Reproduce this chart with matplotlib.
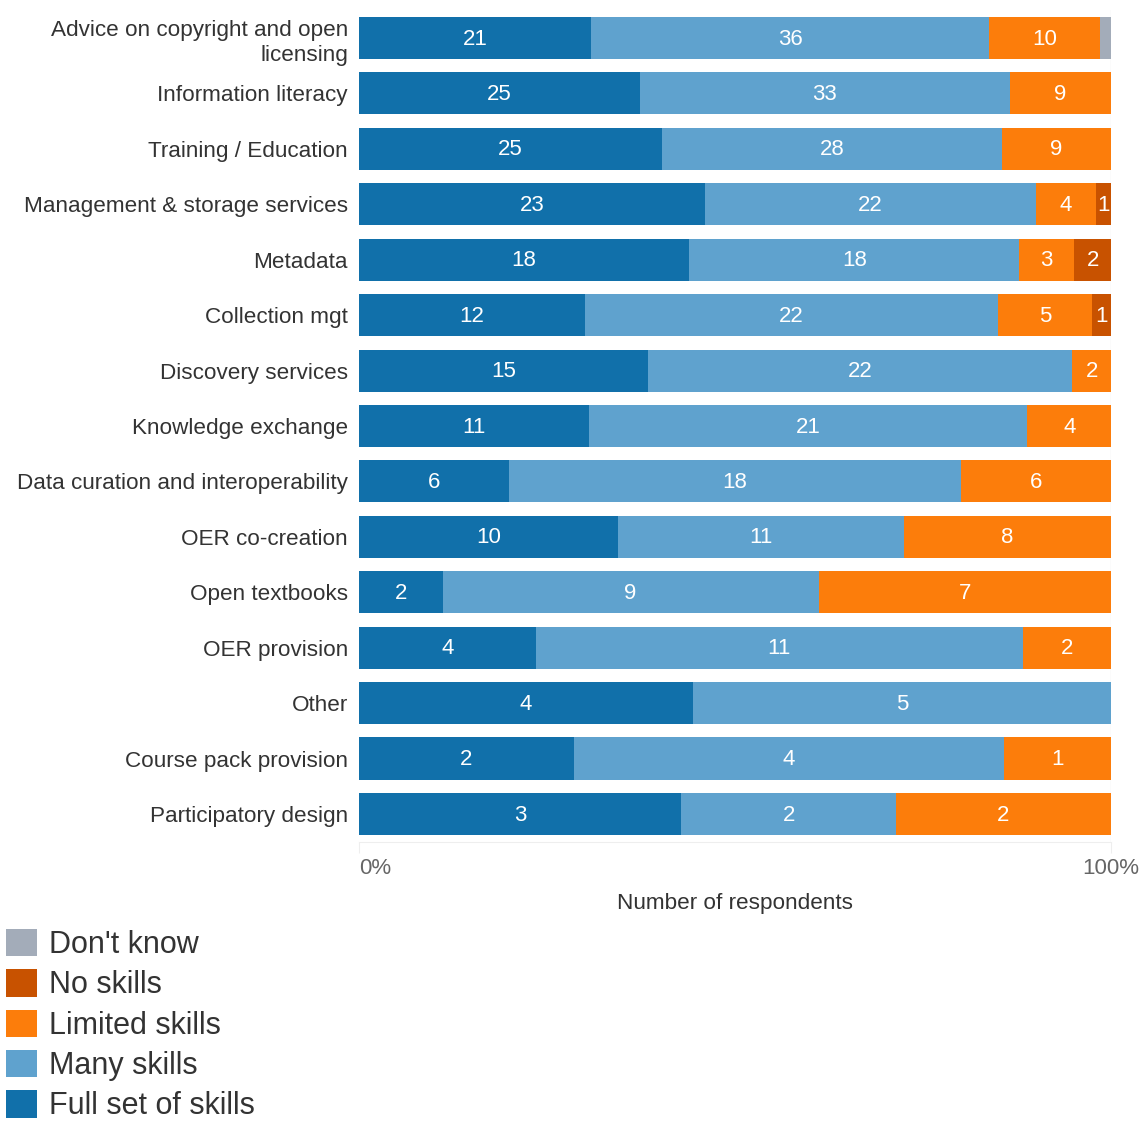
import numpy as np
import matplotlib.pyplot as plt
from matplotlib.patches import Patch

plt.rcParams['font.family'] = ['Liberation Sans', 'DejaVu Sans']

# Skills survey: counts per area, stacked as share of respondents
areas = ["Advice on copyright and open\nlicensing", "Information literacy",
         "Training / Education", "Management & storage services", "Metadata",
         "Collection mgt", "Discovery services", "Knowledge exchange",
         "Data curation and interoperability", "OER co-creation",
         "Open textbooks", "OER provision", "Other", "Course pack provision",
         "Participatory design"]
full_set = [21, 25, 25, 23, 18, 12, 15, 11, 6, 10, 2, 4, 4, 2, 3]
many = [36, 33, 28, 22, 18, 22, 22, 21, 18, 11, 9, 11, 5, 4, 2]
limited = [10, 9, 9, 4, 3, 5, 2, 4, 6, 8, 7, 2, 0, 1, 2]
no_skills = [0, 0, 0, 1, 2, 1, 0, 0, 0, 0, 0, 0, 0, 0, 0]
dont_know = [1, 0, 0, 0, 0, 0, 0, 0, 0, 0, 0, 0, 0, 0, 0]

series = [("Full set of skills", full_set, "#1170aa"),
          ("Many skills", many, "#5fa2ce"),
          ("Limited skills", limited, "#fc7d0b"),
          ("No skills", no_skills, "#c85200"),
          ("Don't know", dont_know, "#a3acb9")]

counts = np.array([s[1] for s in series], dtype=float)
totals = counts.sum(axis=0)
shares = counts / totals

fig = plt.figure(figsize=(11.47, 11.31), dpi=100)
ax = fig.add_axes([0.313, 0.2558, 0.6556, 0.7351])

y = np.arange(len(areas))
left = np.zeros(len(areas))
for (name, vals, color), share in zip(series, shares):
    ax.barh(y, share, left=left, height=0.76, color=color)
    # the grey sliver is too thin to carry a label
    if name != "Don't know":
        for i, v in enumerate(vals):
            if v > 0:
                ax.text(left[i] + share[i] / 2, y[i] + 0.02, str(v), ha='center',
                        va='center', color='white', fontsize=16)
    left += share

ax.set_ylim(len(areas) - 0.5, -0.5)
ax.set_xlim(0, 1)
ax.set_yticks(y)
ax.set_yticklabels(areas, fontsize=16.2, color='#333333', linespacing=1.3)
ax.tick_params(axis='y', length=0, pad=8)
ax.set_xticks([0, 1])
ax.set_xticklabels(["0%", "100%"], fontsize=16, color='#666666')
ax.get_xticklabels()[0].set_horizontalalignment('left')
ax.tick_params(axis='x', length=8, color='#eeeeee', pad=4)
for side in ['top', 'left', 'right']:
    ax.spines[side].set_visible(False)
ax.spines['bottom'].set_color('#eeeeee')
ax.axvline(1, color='#eeeeee', lw=1, zorder=0)
ax.set_xlabel("Number of respondents", fontsize=16.2, color='#333333', labelpad=10)

handles = [Patch(facecolor=c, label=n) for n, _, c in series[::-1]]
fig.legend(handles=handles, loc='upper left', bbox_to_anchor=(0.0, 0.184),
           frameon=False, fontsize=22, handlelength=1.0, handleheight=1.0,
           handletextpad=0.4, labelspacing=0.3, borderaxespad=0, borderpad=0.2,
           labelcolor='#333333')

fig.savefig("out.png", dpi=100)
